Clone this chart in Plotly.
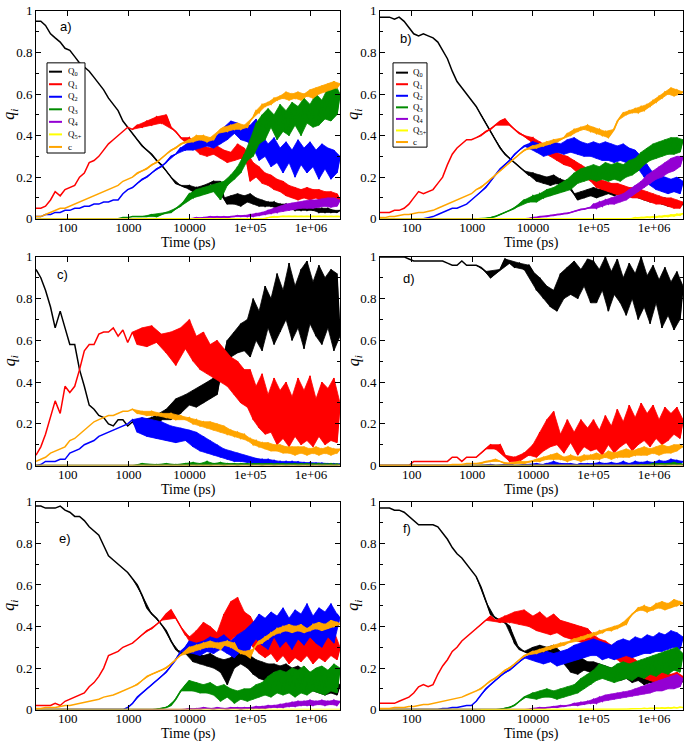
import math
import plotly.graph_objects as go

# ---------------- data ----------------
T = ([30, 36, 43, 52, 62, 75, 90, 108, 130, 156, 187, 225, 270, 324, 389, 467, 560, 672, 806, 967] +
     [1160, 1390, 1670, 2000, 2400, 2880, 3460, 4150, 4980, 5980, 7170, 8600] +
     [10000, 11500, 13000, 15000, 17000, 19500, 22000, 25000, 28500, 32500, 37000, 42000, 48000, 55000, 62000, 70000, 80000, 90000] +
     [100000, 112000, 125000, 140000, 157000, 176000, 197000, 220000, 247000, 277000, 310000, 347000, 389000, 436000, 488000, 547000,
      612000, 686000, 768000, 860000, 963000, 1080000, 1210000, 1350000, 1510000, 1700000, 1900000, 2130000, 2380000, 2670000, 3000000])
T_EDGE = [30, 3000000]
ZERO_EDGE = [0, 0]

# ---- panel a ----
A_Q0 = ([0.95,0.95,0.93,0.89,0.87,0.85,0.82,0.81,0.78,0.75,0.73,0.71,0.68,0.65,0.62,0.58,0.55,0.52,0.47,0.44] +
        [0.41,0.38,0.35,0.33,0.31,0.28,0.26,0.23,0.20,0.17,0.16,0.15] +
        [0.16,0.13,0.15,0.12,0.16,0.13,0.17,0.18,0.14,0.18,0.10,0.07,0.11,0.07,0.12,0.06,0.11,0.08] +
        [0.12,0.07,0.10,0.06,0.09,0.06,0.08,0.06,0.08,0.05,0.07,0.05,0.07,0.05,0.06,0.04,0.06,0.04,0.06,0.04,0.05,0.04,0.05,0.03,0.05,0.03,0.05,0.03,0.04,0.03,0.04])
A_Q1 = ([0.05,0.05,0.06,0.09,0.13,0.11,0.14,0.15,0.16,0.20,0.22,0.27,0.28,0.30,0.33,0.36,0.38,0.40,0.42,0.44] +
        [0.43,0.45,0.44,0.47,0.45,0.49,0.46,0.50,0.44,0.42,0.39,0.37] +
        [0.39,0.34,0.36,0.31,0.35,0.30,0.34,0.31,0.35,0.29,0.33,0.27,0.32,0.28,0.36,0.29,0.34,0.26] +
        [0.18,0.27,0.20,0.25,0.17,0.22,0.16,0.21,0.14,0.19,0.13,0.18,0.11,0.16,0.10,0.15,0.09,0.14,0.10,0.15,0.09,0.14,0.10,0.14,0.08,0.13,0.09,0.13,0.08,0.12,0.09])
A_Q2 = ([0.01,0.01,0.02,0.02,0.03,0.03,0.04,0.04,0.05,0.05,0.06,0.06,0.07,0.07,0.08,0.08,0.09,0.09,0.12,0.14] +
        [0.15,0.17,0.19,0.20,0.22,0.24,0.25,0.27,0.30,0.31,0.34,0.33] +
        [0.37,0.33,0.38,0.34,0.39,0.35,0.38,0.34,0.40,0.36,0.44,0.38,0.47,0.41,0.46,0.38,0.44,0.37] +
        [0.45,0.34,0.48,0.28,0.40,0.30,0.36,0.25,0.39,0.27,0.34,0.22,0.37,0.27,0.33,0.20,0.38,0.26,0.34,0.22,0.37,0.25,0.33,0.19,0.36,0.24,0.34,0.19,0.33,0.22,0.30])
A_Q3 = ([0,0,0,0,0,0,0,0,0,0,0,0,0,0,0,0,0,0,0.005,0.005] +
        [0.01,0.01,0.01,0.01,0.02,0.01,0.02,0.03,0.03,0.05,0.06,0.09] +
        [0.12,0.10,0.14,0.11,0.15,0.12,0.16,0.13,0.17,0.09,0.18,0.16,0.21,0.19,0.25,0.22,0.31,0.28] +
        [0.38,0.30,0.46,0.36,0.50,0.38,0.53,0.44,0.50,0.38,0.55,0.42,0.52,0.40,0.56,0.45,0.54,0.40,0.58,0.46,0.55,0.44,0.60,0.45,0.57,0.48,0.63,0.47,0.66,0.50,0.60])
A_Q4 = ([0,0,0,0,0,0,0,0,0,0,0,0,0,0,0,0,0,0,0,0] +
        [0,0,0,0,0,0,0,0,0,0,0,0] +
        [0,0,0.005,0,0.005,0.005,0.01,0.005,0.01,0.005,0.01,0.005,0.01,0.01,0.015,0.01,0.015,0.01] +
        [0.02,0.01,0.025,0.015,0.03,0.02,0.04,0.025,0.05,0.03,0.06,0.035,0.07,0.04,0.075,0.045,0.08,0.05,0.085,0.05,0.09,0.05,0.09,0.055,0.095,0.06,0.10,0.055,0.10,0.06,0.09])
A_Q5 = ([0,0,0,0,0,0,0,0,0,0,0,0,0,0,0,0,0,0,0,0] +
        [0,0,0,0,0,0,0,0,0,0,0,0] +
        [0,0,0,0,0,0,0,0,0,0,0,0,0,0,0,0,0,0] +
        [0,0,0,0,0,0,0.005,0.008,0.01,0.008,0.01,0.012,0.01,0.012,0.01,0.012,0.01,0.012,0.01,0.012,0.01,0.012,0.01,0.012,0.01,0.012,0.01,0.012,0.01,0.012,0.01])
A_C = ([0.01,0.01,0.02,0.03,0.04,0.05,0.05,0.06,0.07,0.08,0.09,0.10,0.11,0.12,0.13,0.14,0.15,0.16,0.18,0.19] +
       [0.20,0.22,0.23,0.24,0.26,0.27,0.29,0.31,0.33,0.34,0.36,0.37] +
       [0.38,0.37,0.40,0.38,0.40,0.37,0.39,0.38,0.41,0.43,0.44,0.42,0.45,0.43,0.46,0.43,0.45,0.44] +
       [0.47,0.49,0.52,0.51,0.55,0.54,0.56,0.55,0.58,0.57,0.59,0.58,0.61,0.57,0.60,0.58,0.61,0.57,0.60,0.59,0.62,0.58,0.63,0.60,0.64,0.61,0.65,0.62,0.66,0.63,0.65])

# ---- panel b ----
B_Q0 = ([0.97,0.97,0.97,0.96,0.97,0.95,0.92,0.89,0.88,0.89,0.88,0.87,0.85,0.81,0.77,0.71,0.66,0.63,0.60,0.57] +
        [0.54,0.50,0.46,0.42,0.38,0.34,0.31,0.29,0.27,0.25,0.23,0.21] +
        [0.22,0.18,0.21,0.17,0.20,0.16,0.21,0.17,0.19,0.15,0.18,0.14,0.12,0.09,0.13,0.10,0.14,0.11] +
        [0.15,0.10,0.14,0.11,0.16,0.12,0.15,0.11,0.14,0.12,0.15,0.10,0.14,0.11,0.15,0.10,0.13,0.09,0.12,0.08,0.11,0.08,0.10,0.07,0.10,0.06,0.09,0.06,0.08,0.06,0.07])
B_Q1 = ([0.03,0.03,0.03,0.04,0.04,0.05,0.07,0.10,0.13,0.12,0.13,0.14,0.17,0.20,0.26,0.31,0.34,0.36,0.38,0.38] +
        [0.39,0.40,0.42,0.43,0.45,0.47,0.48,0.45,0.43,0.41,0.40,0.38] +
        [0.39,0.34,0.37,0.32,0.35,0.30,0.33,0.28,0.31,0.26,0.30,0.25,0.28,0.22,0.26,0.20,0.24,0.18] +
        [0.21,0.15,0.19,0.14,0.18,0.13,0.17,0.12,0.17,0.11,0.16,0.11,0.15,0.10,0.15,0.10,0.14,0.09,0.13,0.08,0.12,0.07,0.11,0.07,0.10,0.06,0.10,0.05,0.09,0.05,0.08])
B_Q2 = ([0,0,0,0,0,0,0,0,0,0,0.005,0.01,0.02,0.03,0.04,0.05,0.05,0.06,0.07,0.09] +
        [0.11,0.13,0.15,0.18,0.21,0.24,0.26,0.28,0.31,0.33,0.35,0.36] +
        [0.37,0.32,0.36,0.30,0.35,0.31,0.37,0.32,0.36,0.31,0.38,0.32,0.39,0.31,0.37,0.30,0.36,0.30] +
        [0.37,0.29,0.36,0.28,0.37,0.28,0.36,0.27,0.35,0.28,0.36,0.27,0.34,0.26,0.33,0.24,0.30,0.20,0.26,0.16,0.22,0.14,0.21,0.13,0.20,0.12,0.19,0.13,0.20,0.12,0.18])
B_Q3 = ([0,0,0,0,0,0,0,0,0,0,0,0,0,0,0,0,0,0,0,0] +
        [0,0,0,0.005,0.01,0.02,0.03,0.04,0.05,0.07,0.09,0.08] +
        [0.11,0.08,0.12,0.10,0.14,0.11,0.15,0.12,0.17,0.13,0.19,0.14,0.22,0.17,0.24,0.18,0.25,0.19] +
        [0.26,0.18,0.25,0.19,0.27,0.18,0.26,0.19,0.27,0.18,0.26,0.20,0.28,0.21,0.29,0.23,0.32,0.26,0.34,0.28,0.36,0.29,0.37,0.30,0.38,0.31,0.39,0.31,0.39,0.32,0.38])
B_Q4 = ([0,0,0,0,0,0,0,0,0,0,0,0,0,0,0,0,0,0,0,0] +
        [0,0,0,0,0,0,0,0,0,0,0,0] +
        [0.005,0.005,0.01,0.01,0.01,0.015,0.015,0.02,0.02,0.025,0.025,0.03,0.035,0.04,0.045,0.045,0.05,0.055] +
        [0.07,0.05,0.08,0.06,0.09,0.07,0.10,0.07,0.11,0.08,0.12,0.09,0.14,0.11,0.16,0.13,0.18,0.15,0.21,0.17,0.23,0.19,0.25,0.20,0.27,0.22,0.29,0.23,0.30,0.25,0.30])
B_Q5 = ([0,0,0,0,0,0,0,0,0,0,0,0,0,0,0,0,0,0,0,0] +
        [0,0,0,0,0,0,0,0,0,0,0,0] +
        [0,0,0,0,0,0,0,0,0,0,0,0,0,0,0,0,0,0] +
        [0,0,0,0,0,0,0,0,0,0,0,0,0,0,0.005,0.003,0.006,0.004,0.008,0.005,0.01,0.006,0.012,0.008,0.015,0.01,0.018,0.012,0.022,0.016,0.025])
B_C = ([0.005,0.005,0.01,0.01,0.015,0.02,0.02,0.025,0.03,0.03,0.035,0.04,0.05,0.06,0.07,0.08,0.09,0.10,0.11,0.12] +
       [0.14,0.15,0.17,0.19,0.21,0.23,0.25,0.27,0.29,0.31,0.33,0.34] +
       [0.35,0.34,0.36,0.35,0.37,0.36,0.38,0.37,0.38,0.39,0.41,0.40,0.43,0.42,0.44,0.43,0.45,0.42] +
       [0.44,0.41,0.43,0.40,0.42,0.39,0.41,0.43,0.47,0.49,0.51,0.50,0.52,0.51,0.53,0.51,0.54,0.52,0.55,0.54,0.57,0.56,0.59,0.58,0.61,0.60,0.63,0.59,0.62,0.60,0.61])

# ---- panel c ----
C_Q0 = ([0.94,0.90,0.84,0.76,0.66,0.74,0.66,0.58,0.58,0.46,0.38,0.29,0.27,0.24,0.23,0.20,0.19,0.22,0.22,0.19] +
        [0.21,0.18,0.22,0.20,0.23,0.19,0.22,0.27,0.22,0.32,0.25,0.34] +
        [0.29,0.36,0.28,0.38,0.30,0.40,0.32,0.42,0.34,0.46,0.50,0.60,0.52,0.64,0.54,0.68,0.55,0.70] +
        [0.52,0.80,0.60,0.74,0.55,0.86,0.66,0.80,0.58,0.92,0.64,0.84,0.70,0.97,0.60,0.86,0.66,0.94,0.56,0.98,0.68,0.88,0.62,0.96,0.58,0.90,0.66,0.94,0.55,0.92,0.62])
C_Q1 = ([0.05,0.09,0.15,0.24,0.31,0.25,0.38,0.35,0.38,0.46,0.55,0.58,0.58,0.63,0.64,0.64,0.66,0.62,0.65,0.59] +
        [0.64,0.58,0.66,0.57,0.67,0.59,0.63,0.54,0.64,0.48,0.66,0.56] +
        [0.70,0.50,0.62,0.46,0.64,0.44,0.58,0.42,0.60,0.40,0.56,0.38,0.52,0.34,0.50,0.30,0.46,0.28] +
        [0.46,0.22,0.38,0.18,0.44,0.15,0.34,0.16,0.42,0.10,0.36,0.13,0.40,0.09,0.33,0.14,0.42,0.10,0.36,0.12,0.43,0.09,0.32,0.14,0.40,0.10,0.37,0.12,0.42,0.11,0.30])
C_Q2 = ([0,0.005,0.02,0.02,0.02,0.03,0.03,0.06,0.07,0.08,0.10,0.11,0.12,0.14,0.15,0.16,0.17,0.18,0.19,0.20] +
        [0.22,0.16,0.23,0.14,0.22,0.13,0.21,0.12,0.19,0.11,0.18,0.12] +
        [0.17,0.09,0.16,0.07,0.14,0.06,0.12,0.05,0.10,0.04,0.08,0.03,0.07,0.02,0.06,0.02,0.05,0.015] +
        [0.04,0.01,0.035,0.01,0.03,0.008,0.03,0.006,0.025,0.005,0.02,0.005,0.02,0.004,0.02,0.004,0.018,0.003,0.015,0.003,0.015,0.002,0.012,0.002,0.012,0.002,0.01,0.002,0.01,0.001,0.008])
C_Q3 = ([0,0,0,0,0,0,0,0,0,0,0,0,0,0,0,0,0,0,0,0] +
        [0,0,0.01,0,0,0.005,0,0.01,0,0.005,0,0.01] +
        [0,0.015,0,0.01,0,0.02,0,0.01,0.005,0.015,0,0.01,0.005,0.01,0,0.01,0.005,0.01] +
        [0,0.01,0.005,0.01,0,0.008,0.005,0.01,0,0.008,0.004,0.01,0,0.008,0.004,0.01,0,0.008,0.004,0.01,0,0.008,0.004,0.01,0,0.008,0.004,0.01,0,0.008,0.004])
C_C = ([0.02,0.03,0.04,0.06,0.07,0.08,0.09,0.12,0.13,0.15,0.17,0.19,0.21,0.22,0.23,0.24,0.24,0.25,0.26,0.26] +
       [0.27,0.25,0.26,0.24,0.26,0.24,0.25,0.23,0.25,0.22,0.24,0.22] +
       [0.23,0.20,0.22,0.19,0.21,0.18,0.21,0.17,0.20,0.16,0.19,0.15,0.17,0.14,0.16,0.13,0.15,0.12] +
       [0.13,0.10,0.12,0.09,0.11,0.08,0.11,0.07,0.10,0.07,0.10,0.06,0.09,0.06,0.09,0.05,0.09,0.06,0.09,0.05,0.08,0.06,0.09,0.05,0.08,0.06,0.09,0.05,0.08,0.06,0.08])

# ---- panel d ----
D_Q0 = ([1.0,1.0,1.0,1.0,1.0,1.0,0.99,0.98,0.98,0.98,0.98,0.98,0.98,0.98,0.97,0.96,0.96,0.98,0.96,0.96] +
        [0.96,0.95,0.93,0.90,0.92,0.94,0.99,0.97,0.95,0.97,0.94,0.96] +
        [0.93,0.84,0.90,0.80,0.86,0.76,0.84,0.74,0.92,0.80,0.95,0.82,0.98,0.80,0.94,0.86,0.99,0.78] +
        [0.98,0.78,0.94,0.84,1.0,0.74,0.93,0.82,0.99,0.78,0.90,0.72,0.97,0.80,0.92,0.70,1.0,0.76,0.91,0.68,0.96,0.78,0.89,0.66,0.95,0.72,0.88,0.65,0.93,0.70,0.86])
D_Q1 = ([0,0,0,0,0,0,0,0.02,0.02,0.02,0.02,0.02,0.02,0.02,0.02,0.04,0.04,0.02,0.04,0.04] +
        [0.04,0.06,0.08,0.10,0.08,0.10,0.05,0.02,0.04,0.02,0.06,0.05] +
        [0.10,0.04,0.16,0.07,0.22,0.09,0.26,0.10,0.15,0.06,0.22,0.11,0.16,0.05,0.22,0.09,0.18,0.07] +
        [0.22,0.08,0.17,0.05,0.24,0.10,0.19,0.06,0.27,0.09,0.21,0.11,0.29,0.07,0.23,0.10,0.30,0.12,0.25,0.09,0.29,0.13,0.22,0.10,0.28,0.12,0.25,0.15,0.28,0.13,0.22])
D_Q2 = ([0,0,0,0,0,0,0,0,0,0,0,0,0,0,0,0,0,0,0,0] +
        [0,0,0,0.005,0,0,0,0.01,0,0,0.005,0] +
        [0,0.01,0,0.005,0.01,0,0.02,0,0.01,0.005,0,0.01,0,0.005,0.01,0,0.01,0] +
        [0.01,0,0.015,0,0.01,0.005,0.015,0,0.01,0.005,0.02,0,0.01,0.005,0.02,0.005,0.015,0.005,0.02,0.005,0.015,0.01,0.025,0.005,0.02,0.01,0.03,0.01,0.025,0.01,0.02])
D_Q3 = ([0,0,0,0,0,0,0,0,0,0,0,0,0,0,0,0,0,0,0,0] +
        [0,0,0,0,0,0,0,0,0,0,0,0] +
        [0,0,0,0,0,0,0,0,0,0,0,0,0,0,0,0,0,0] +
        [0,0,0,0,0,0,0,0,0,0,0,0,0,0,0,0,0.005,0,0.005,0,0.01,0,0.005,0.01,0,0.01,0.005,0.015,0.005,0.01,0.005])
D_C = ([0,0,0,0,0,0,0,0,0,0,0,0,0,0,0,0.005,0.005,0.005,0.01,0.01] +
       [0.01,0.01,0.02,0.02,0.03,0.02,0.01,0.01,0.01,0.02,0.01,0.02] +
       [0.02,0.03,0.02,0.04,0.03,0.05,0.03,0.06,0.03,0.04,0.02,0.05,0.03,0.04,0.02,0.05,0.03,0.05] +
       [0.03,0.06,0.03,0.05,0.04,0.07,0.03,0.06,0.04,0.07,0.04,0.08,0.04,0.07,0.05,0.08,0.05,0.09,0.05,0.08,0.06,0.09,0.05,0.10,0.06,0.09,0.06,0.10,0.07,0.10,0.09])

# ---- panel e ----
E_Q0 = ([0.98,0.98,0.97,0.97,0.97,0.98,0.96,0.95,0.93,0.93,0.91,0.88,0.86,0.84,0.79,0.74,0.72,0.70,0.68,0.66] +
        [0.63,0.60,0.55,0.49,0.46,0.44,0.41,0.38,0.33,0.29,0.27,0.27] +
        [0.28,0.23,0.27,0.22,0.26,0.21,0.27,0.20,0.25,0.18,0.24,0.12,0.25,0.20,0.30,0.22,0.28,0.20] +
        [0.26,0.17,0.24,0.15,0.23,0.14,0.22,0.13,0.22,0.12,0.21,0.13,0.22,0.12,0.20,0.11,0.21,0.10,0.19,0.09,0.18,0.09,0.17,0.08,0.16,0.07,0.15,0.08,0.14,0.07,0.12])
E_Q1 = ([0.02,0.02,0.02,0.02,0.03,0.02,0.04,0.05,0.06,0.07,0.08,0.11,0.13,0.16,0.20,0.26,0.27,0.28,0.30,0.31] +
        [0.32,0.34,0.36,0.38,0.39,0.41,0.43,0.46,0.48,0.44,0.40,0.36] +
        [0.35,0.30,0.38,0.28,0.42,0.32,0.40,0.29,0.37,0.33,0.46,0.32,0.52,0.35,0.54,0.37,0.47,0.34] +
        [0.45,0.30,0.40,0.27,0.43,0.25,0.38,0.27,0.42,0.23,0.37,0.26,0.40,0.22,0.36,0.25,0.40,0.23,0.37,0.26,0.39,0.22,0.36,0.25,0.40,0.23,0.35,0.26,0.38,0.24,0.30])
E_Q2 = ([0,0,0,0,0,0,0,0,0,0,0,0,0,0,0,0,0,0,0,0.01] +
        [0.03,0.06,0.08,0.10,0.12,0.14,0.16,0.18,0.21,0.24,0.28,0.30] +
        [0.33,0.27,0.32,0.26,0.33,0.28,0.35,0.27,0.34,0.29,0.36,0.27,0.33,0.25,0.36,0.28,0.38,0.26] +
        [0.30,0.42,0.34,0.46,0.31,0.44,0.29,0.47,0.35,0.45,0.30,0.49,0.33,0.44,0.29,0.48,0.34,0.46,0.31,0.51,0.35,0.45,0.32,0.49,0.30,0.47,0.35,0.51,0.32,0.46,0.44])
E_Q3 = ([0,0,0,0,0,0,0,0,0,0,0,0,0,0,0,0,0,0,0,0] +
        [0,0,0,0,0,0,0.005,0.01,0.02,0.05,0.09,0.12] +
        [0.14,0.09,0.13,0.08,0.12,0.08,0.13,0.07,0.11,0.04,0.12,0.06,0.10,0.03,0.09,0.05,0.10,0.04] +
        [0.10,0.05,0.12,0.06,0.13,0.07,0.16,0.06,0.18,0.08,0.19,0.07,0.18,0.08,0.20,0.06,0.19,0.08,0.21,0.07,0.18,0.09,0.20,0.08,0.21,0.07,0.19,0.09,0.22,0.08,0.20])
E_Q4 = ([0,0,0,0,0,0,0,0,0,0,0,0,0,0,0,0,0,0,0,0] +
        [0,0,0,0,0,0,0,0,0,0,0,0] +
        [0.005,0,0.005,0,0.01,0.005,0.005,0,0.01,0.005,0.005,0,0.01,0.005,0.01,0,0.01,0.005] +
        [0.01,0.005,0.015,0.005,0.015,0.005,0.02,0.01,0.02,0.01,0.025,0.01,0.03,0.015,0.035,0.015,0.04,0.02,0.04,0.02,0.045,0.02,0.04,0.025,0.045,0.02,0.04,0.025,0.045,0.02,0.04])
E_C = ([0.005,0.005,0.01,0.01,0.01,0.015,0.02,0.02,0.025,0.03,0.035,0.04,0.045,0.05,0.06,0.065,0.07,0.08,0.09,0.10] +
       [0.11,0.12,0.14,0.16,0.17,0.18,0.19,0.20,0.22,0.24,0.26,0.28] +
       [0.30,0.28,0.31,0.29,0.32,0.30,0.33,0.30,0.32,0.29,0.31,0.33,0.30,0.32,0.29,0.27,0.28,0.26] +
       [0.25,0.29,0.31,0.33,0.32,0.35,0.34,0.37,0.36,0.39,0.37,0.40,0.38,0.41,0.37,0.40,0.38,0.41,0.37,0.39,0.38,0.41,0.39,0.42,0.38,0.41,0.39,0.43,0.40,0.42,0.41])

# ---- panel f ----
F_Q0 = ([0.97,0.97,0.97,0.96,0.96,0.95,0.93,0.91,0.89,0.89,0.89,0.89,0.88,0.85,0.82,0.78,0.75,0.73,0.70,0.67] +
        [0.64,0.59,0.52,0.46,0.44,0.43,0.42,0.40,0.32,0.29,0.28,0.27] +
        [0.30,0.26,0.31,0.27,0.30,0.25,0.31,0.26,0.28,0.22,0.26,0.18,0.24,0.17,0.25,0.19,0.23,0.18] +
        [0.23,0.17,0.22,0.16,0.21,0.16,0.20,0.15,0.21,0.14,0.19,0.15,0.18,0.13,0.18,0.14,0.17,0.12,0.17,0.13,0.16,0.12,0.17,0.13,0.16,0.12,0.15,0.13,0.16,0.12,0.14])
F_Q1 = ([0.03,0.03,0.03,0.03,0.04,0.05,0.06,0.08,0.11,0.12,0.11,0.12,0.17,0.21,0.24,0.28,0.30,0.33,0.35,0.37] +
        [0.39,0.41,0.43,0.45,0.43,0.42,0.45,0.42,0.47,0.41,0.48,0.40] +
        [0.45,0.38,0.47,0.37,0.44,0.36,0.46,0.37,0.43,0.35,0.42,0.34,0.41,0.33,0.40,0.32,0.39,0.31] +
        [0.36,0.30,0.34,0.28,0.33,0.27,0.31,0.25,0.30,0.23,0.28,0.21,0.26,0.19,0.24,0.17,0.22,0.15,0.20,0.14,0.19,0.13,0.18,0.14,0.18,0.13,0.17,0.14,0.18,0.13,0.16])
F_Q2 = ([0,0,0,0,0,0,0,0,0,0,0,0,0,0.005,0.005,0.01,0.01,0.015,0.02,0.02] +
        [0.04,0.07,0.10,0.12,0.14,0.16,0.18,0.19,0.21,0.23,0.25,0.26] +
        [0.28,0.23,0.27,0.22,0.28,0.23,0.27,0.21,0.28,0.22,0.29,0.23,0.31,0.24,0.32,0.25,0.33,0.26] +
        [0.34,0.26,0.33,0.24,0.32,0.25,0.31,0.24,0.33,0.25,0.34,0.26,0.33,0.25,0.35,0.26,0.34,0.27,0.36,0.27,0.35,0.28,0.37,0.28,0.36,0.29,0.38,0.30,0.37,0.29,0.35])
F_Q3 = ([0,0,0,0,0,0,0,0,0,0,0,0,0,0,0,0,0,0,0,0] +
        [0,0,0,0,0,0,0.005,0.01,0.02,0.04,0.06,0.07] +
        [0.08,0.05,0.09,0.06,0.10,0.06,0.09,0.05,0.10,0.06,0.11,0.07,0.12,0.08,0.15,0.10,0.17,0.12] +
        [0.19,0.14,0.22,0.15,0.21,0.14,0.20,0.13,0.22,0.14,0.23,0.15,0.22,0.14,0.23,0.16,0.24,0.15,0.25,0.17,0.26,0.16,0.27,0.18,0.28,0.17,0.29,0.19,0.30,0.18,0.27])
F_Q4 = ([0,0,0,0,0,0,0,0,0,0,0,0,0,0,0,0,0,0,0,0] +
        [0,0,0,0,0,0,0,0,0,0,0,0] +
        [0.005,0.005,0.01,0.005,0.01,0.01,0.015,0.01,0.02,0.015,0.02,0.02,0.03,0.02,0.035,0.025,0.04,0.03] +
        [0.05,0.03,0.06,0.04,0.07,0.045,0.075,0.05,0.08,0.055,0.085,0.06,0.09,0.065,0.10,0.07,0.11,0.075,0.12,0.08,0.13,0.09,0.14,0.09,0.15,0.10,0.16,0.10,0.17,0.11,0.15])
F_Q5 = ([0,0,0,0,0,0,0,0,0,0,0,0,0,0,0,0,0,0,0,0] +
        [0,0,0,0,0,0,0,0,0,0,0,0] +
        [0,0,0,0,0,0,0,0,0,0,0,0,0,0,0,0,0,0] +
        [0,0,0,0,0,0,0,0,0,0,0,0.003,0.002,0.004,0.003,0.005,0.004,0.006,0.004,0.007,0.005,0.008,0.006,0.009,0.006,0.01,0.007,0.011,0.008,0.012,0.01])
F_C = ([0.005,0.005,0.005,0.01,0.01,0.01,0.015,0.015,0.02,0.025,0.025,0.03,0.035,0.04,0.045,0.05,0.055,0.06,0.07,0.08] +
       [0.09,0.10,0.12,0.14,0.15,0.17,0.19,0.20,0.22,0.24,0.26,0.27] +
       [0.28,0.27,0.29,0.28,0.30,0.29,0.31,0.30,0.32,0.31,0.32,0.33,0.34,0.33,0.35,0.34,0.36,0.35] +
       [0.37,0.36,0.38,0.37,0.38,0.39,0.38,0.40,0.39,0.41,0.42,0.41,0.44,0.46,0.47,0.49,0.48,0.50,0.47,0.49,0.48,0.51,0.49,0.52,0.48,0.51,0.49,0.53,0.50,0.52,0.51])

SERIES_NAMES = ["Q<sub>0</sub>", "Q<sub>1</sub>", "Q<sub>2</sub>", "Q<sub>3</sub>", "Q<sub>4</sub>", "Q<sub>5+</sub>", "c"]
PANEL_LABELS = ["a)", "b)", "c)", "d)", "e)", "f)"]
X_TICKVALS = [100, 1000, 10000, 100000, 1000000]
X_TICKTEXT = ["100", "1000", "10000", "1e+05", "1e+06"]

PANELS = [
    [(T, A_Q0), (T, A_Q1), (T, A_Q2), (T, A_Q3), (T, A_Q4), (T, A_Q5), (T, A_C)],
    [(T, B_Q0), (T, B_Q1), (T, B_Q2), (T, B_Q3), (T, B_Q4), (T, B_Q5), (T, B_C)],
    [(T, C_Q0), (T, C_Q1), (T, C_Q2), (T, C_Q3), (T_EDGE, ZERO_EDGE), (T_EDGE, ZERO_EDGE), (T, C_C)],
    [(T, D_Q0), (T, D_Q1), (T, D_Q2), (T, D_Q3), (T_EDGE, ZERO_EDGE), (T_EDGE, ZERO_EDGE), (T, D_C)],
    [(T, E_Q0), (T, E_Q1), (T, E_Q2), (T, E_Q3), (T, E_Q4), (T_EDGE, ZERO_EDGE), (T, E_C)],
    [(T, F_Q0), (T, F_Q1), (T, F_Q2), (T, F_Q3), (T, F_Q4), (T, F_Q5), (T, F_C)],
]

# ---------------- styling / layout ----------------
COLORS = ["#000000", "#ff0000", "#0000ff", "#008b00", "#9400d3", "#ffff00", "#ffa500"]
W, H = 685, 747
COLS = [(36, 340), (380, 683)]
ROWS = [(4, 216), (255, 468), (505, 717)]
SERIF = "Liberation Serif, Times New Roman, serif"
SANS = "Liberation Sans, Arial, sans-serif"
LABEL_POS = [(0.072, 0.925), (0.06, 0.868), (0.062, 0.915), (0.07, 0.897), (0.068, 0.825), (0.07, 0.872)]
BAND_START = 20   # from here on the noisy fluctuation is drawn as a filled band


def px2x(px):
    return px / W


def py2y(py):
    return 1 - py / H


def noise_band(xs, ys, start):
    """Polygon through the upper and lower point of each consecutive pair of samples."""
    ux, uy, lx, ly = [], [], [], []
    for j in range(start, len(ys) - 1, 2):
        hi, lo = (j, j + 1) if ys[j] >= ys[j + 1] else (j + 1, j)
        ux.append(xs[hi]); uy.append(ys[hi])
        lx.append(xs[lo]); ly.append(ys[lo])
    ux.append(xs[-1]); uy.append(ys[-1])
    return ux + lx[::-1], uy + ly[::-1]


fig = go.Figure()
layout = dict(width=W, height=H, margin=dict(l=0, r=0, t=0, b=0),
              paper_bgcolor="white", plot_bgcolor="white", showlegend=False)
annotations = []
shapes = []

for i, series in enumerate(PANELS):
    r, c = divmod(i, 2)
    x0, x1 = COLS[c]
    y0, y1 = ROWS[r]
    sfx = "" if i == 0 else str(i + 1)
    for k, (xs, ys) in enumerate(series):
        if len(xs) != len(ys):
            raise ValueError(f"panel {i} series {k}: {len(xs)} vs {len(ys)}")
        if len(ys) > BAND_START + 2:
            bx, by = noise_band(xs, ys, BAND_START)
            fig.add_trace(go.Scatter(x=bx, y=by, mode="lines", fill="toself",
                                     fillcolor=COLORS[k], line=dict(color=COLORS[k], width=0.8),
                                     xaxis="x" + sfx, yaxis="y" + sfx, hoverinfo="skip"))
        fig.add_trace(go.Scatter(x=xs, y=ys, mode="lines",
                                 line=dict(color=COLORS[k], width=1.5),
                                 xaxis="x" + sfx, yaxis="y" + sfx,
                                 hoverinfo="skip"))
    axcommon = dict(showline=True, linecolor="black", linewidth=1, mirror="ticks",
                    ticks="inside", ticklen=5, tickcolor="black", showgrid=False,
                    zeroline=False, tickfont=dict(family=SERIF, size=13, color="black"))
    layout["xaxis" + sfx] = dict(axcommon, type="log", range=[math.log10(30), math.log10(3e6)],
                                 domain=[px2x(x0), px2x(x1)], anchor="y" + sfx,
                                 tickmode="array", tickvals=X_TICKVALS, ticktext=X_TICKTEXT,
                                 ticklabelstandoff=-3)
    layout["yaxis" + sfx] = dict(axcommon, range=[0, 1], domain=[py2y(y1), py2y(y0)],
                                 anchor="x" + sfx, tickmode="linear", tick0=0, dtick=0.2,
                                 minor=dict(ticks="inside", ticklen=3, dtick=0.1, tickcolor="black"))
    lx, ly = LABEL_POS[i]
    annotations.append(dict(text=PANEL_LABELS[i], xref="paper", yref="paper",
                            x=px2x(x0 + lx * (x1 - x0)), y=py2y(y1 - ly * (y1 - y0)),
                            showarrow=False, font=dict(family=SANS, size=13, color="black"),
                            xanchor="left", yanchor="middle"))
    annotations.append(dict(text="Time (ps)", xref="paper", yref="paper",
                            x=px2x((x0 + x1) / 2), y=py2y(y1 + 16), showarrow=False,
                            font=dict(family=SERIF, size=14, color="black"),
                            xanchor="center", yanchor="top", borderpad=0))
    annotations.append(dict(text="<i>q<sub>i</sub></i>", xref="paper", yref="paper",
                            x=px2x(x0 - 26), y=py2y((y0 + y1) / 2), showarrow=False,
                            textangle=-90, font=dict(family=SERIF, size=16, color="black"),
                            xanchor="center", yanchor="middle"))

# manual legends (panels a and b)
LEGENDS = [dict(box=(47, 57, 85, 149), first=66, step=12.8, lx=(49, 62), tx=66),
           dict(box=(393, 57, 427, 143), first=67, step=11.8, lx=(396, 408), tx=411)]
for lg in LEGENDS:
    bx0, by0, bx1, by1 = lg["box"]
    shapes.append(dict(type="rect", xref="paper", yref="paper",
                       x0=px2x(bx0), x1=px2x(bx1), y0=py2y(by1), y1=py2y(by0),
                       line=dict(color="black", width=1), fillcolor="white", layer="above"))
    for k, name in enumerate(SERIES_NAMES):
        yy = lg["first"] + k * lg["step"]
        shapes.append(dict(type="line", xref="paper", yref="paper",
                           x0=px2x(lg["lx"][0]), x1=px2x(lg["lx"][1]), y0=py2y(yy), y1=py2y(yy),
                           line=dict(color=COLORS[k], width=2), layer="above"))
        annotations.append(dict(text=name, xref="paper", yref="paper",
                                x=px2x(lg["tx"]), y=py2y(yy), showarrow=False,
                                font=dict(family=SERIF, size=9, color="black"),
                                xanchor="left", yanchor="middle"))

layout["annotations"] = annotations
layout["shapes"] = shapes
fig.update_layout(**layout)
fig.write_html("out.html", config={"displayModeBar": False},
               post_script="document.body.style.margin='0px';document.body.style.overflow='hidden';")
